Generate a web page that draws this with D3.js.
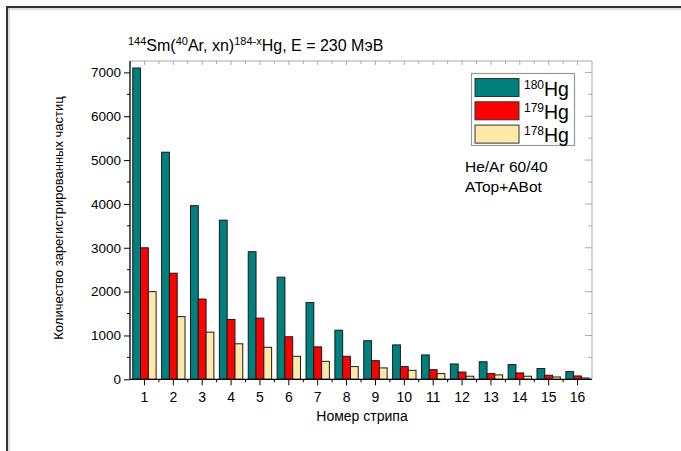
<!DOCTYPE html>
<html>
<head>
<meta charset="utf-8">
<script src="https://cdn.jsdelivr.net/npm/d3@7"></script>
<style>
  html, body { margin: 0; padding: 0; background: #fff; }
  svg { display: block; font-family: "Liberation Sans", Arial, sans-serif; }
</style>
</head>
<body>
<svg id="chart" width="681" height="451"></svg>
<script>
// Strip numbers and counts of registered particles per isotope
const strips = ["1","2","3","4","5","6","7","8","9","10","11","12","13","14","15","16"];
const hg180 = [7100, 5180, 3960, 3630, 2910, 2330, 1750, 1120, 880, 785, 555, 350, 400, 335, 245, 175];
const hg179 = [3000, 2420, 1830, 1365, 1395, 970, 740, 525, 425, 290, 220, 165, 130, 145, 92, 76];
const hg178 = [2000, 1430, 1075, 810, 730, 525, 410, 290, 260, 205, 130, 70, 100, 70, 53, 30];
const seriesNames = ["180", "179", "178"];
const seriesColors = ["#007f7f", "#ff0000", "#ffe9a8"];
const yTicks = [0, 1000, 2000, 3000, 4000, 5000, 6000, 7000];
const yMinorTicks = [500, 1500, 2500, 3500, 4500, 5500, 6500];

const series = [hg180, hg179, hg178];
const svg = d3.select("#chart");

// Outer frame (top and left edges)
svg.append("line").attr("x1", 6).attr("x2", 681).attr("y1", 7).attr("y2", 7)
  .attr("stroke", "#333").attr("stroke-width", 2);
svg.append("line").attr("x1", 7).attr("x2", 7).attr("y1", 6).attr("y2", 451)
  .attr("stroke", "#333").attr("stroke-width", 2);
svg.append("line").attr("x1", 8).attr("x2", 681).attr("y1", 9).attr("y2", 9)
  .attr("stroke", "#bbb").attr("stroke-width", 1);
svg.append("line").attr("x1", 9).attr("x2", 9).attr("y1", 8).attr("y2", 451)
  .attr("stroke", "#bbb").attr("stroke-width", 1);

const plot = { left: 130, right: 592, top: 61, bottom: 379.3 };

const x0 = d3.scaleBand().domain(strips)
  .range([plot.left, plot.right]).paddingInner(0.19).paddingOuter(0.095);
const x1 = d3.scaleBand().domain(seriesNames).range([0, x0.bandwidth()]);
const y = d3.scaleLinear().domain([0, 7260]).range([plot.bottom, plot.top]);

// Bars
const groups = svg.append("g").selectAll("g").data(strips).join("g")
  .attr("transform", d => `translate(${x0(d)},0)`);
groups.selectAll("rect")
  .data((d, i) => series.map((s, k) => ({ k, v: s[i] })))
  .join("rect")
  .attr("x", d => x1(seriesNames[d.k]))
  .attr("width", x1.bandwidth())
  .attr("y", d => y(d.v))
  .attr("height", d => y(0) - y(d.v))
  .attr("fill", d => seriesColors[d.k])
  .attr("stroke", "#1a1a1a")
  .attr("stroke-width", 1);

// Top and right frame axes (grey, ticks inward)
const gray = "#aaa";
const topAx = svg.append("g").attr("transform", `translate(0,${plot.top})`);
topAx.append("line").attr("x1", plot.left).attr("x2", plot.right).attr("stroke", gray);
const centers = strips.map(s => x0(s) + x0.bandwidth() / 2);
const bounds = strips.map(s => x0(s) - x0.step() * x0.paddingInner() / 2).slice(1);
topAx.selectAll(".tc").data(centers).join("line")
  .attr("x1", d => d).attr("x2", d => d).attr("y1", 0).attr("y2", 4).attr("stroke", gray);
topAx.selectAll(".tb").data(bounds).join("line")
  .attr("x1", d => d).attr("x2", d => d).attr("y1", 0).attr("y2", 3).attr("stroke", gray);

const rightAx = svg.append("g").attr("transform", `translate(${plot.right},0)`);
rightAx.append("line").attr("y1", plot.top).attr("y2", plot.bottom).attr("stroke", gray);
rightAx.selectAll(".rm").data(yTicks).join("line")
  .attr("x1", -7).attr("x2", 0).attr("y1", d => y(d)).attr("y2", d => y(d)).attr("stroke", gray);
rightAx.selectAll(".rn").data(yMinorTicks).join("line")
  .attr("x1", -4).attr("x2", 0).attr("y1", d => y(d)).attr("y2", d => y(d)).attr("stroke", gray);

// Left axis
const leftAx = svg.append("g").attr("transform", `translate(${plot.left},0)`);
leftAx.call(d3.axisLeft(y).tickValues(yTicks).tickSize(6).tickPadding(3).tickFormat(d3.format("d")));
leftAx.selectAll(".minor").data(yMinorTicks).join("line").attr("class", "minor")
  .attr("x1", -3).attr("x2", 0).attr("y1", d => y(d)).attr("y2", d => y(d)).attr("stroke", "#000");
leftAx.select(".domain").attr("d", `M0,${plot.top}V${plot.bottom}`).attr("stroke", "#000").attr("stroke-width", 1.3);
leftAx.selectAll("text").attr("font-size", 13.5).attr("fill", "#000")
  .attr("font-family", "'Liberation Sans', Arial, sans-serif");

// Bottom axis
const botAx = svg.append("g").attr("transform", `translate(0,${plot.bottom})`);
botAx.append("line").attr("x1", plot.left).attr("x2", plot.right).attr("stroke", "#000").attr("stroke-width", 1.3);
botAx.selectAll(".bc").data(centers).join("line")
  .attr("x1", d => d).attr("x2", d => d).attr("y1", 0).attr("y2", 6).attr("stroke", "#000");
botAx.selectAll(".bb").data(bounds).join("line")
  .attr("x1", d => d).attr("x2", d => d).attr("y1", 0).attr("y2", 3).attr("stroke", "#000");
botAx.selectAll(".bl").data(strips).join("text")
  .attr("x", d => x0(d) + x0.bandwidth() / 2).attr("y", 22.5)
  .attr("text-anchor", "middle").attr("font-size", 14).attr("fill", "#000")
  .text(d => d);

// Axis titles
svg.append("text").attr("x", 362).attr("y", 421).attr("text-anchor", "middle")
  .attr("font-size", 14).text("Номер стрипа");
svg.append("text").attr("transform", "translate(63,218) rotate(-90)")
  .attr("text-anchor", "middle").attr("font-size", 13)
  .text("Количество зарегистрированных частиц");

// Title with superscripts
const title = svg.append("text").attr("x", 128).attr("y", 51).attr("font-size", 16);
function sup(t) { title.append("tspan").attr("font-size", 11).attr("dy", -6.5).text(t); }
function norm(t) { title.append("tspan").attr("font-size", 16).attr("dy", 6.5).text(t); }
title.append("tspan").attr("font-size", 11).attr("dy", -6.5).text("144");
norm("Sm(");
sup("40");
norm("Ar, xn)");
sup("184-x");
norm("Hg, E = 230 МэВ");

// Legend
const lg = svg.append("g");
lg.append("rect").attr("x", 471.5).attr("y", 73.5).attr("width", 103).attr("height", 72)
  .attr("fill", "#fff").attr("stroke", "#999").attr("stroke-width", 1.2);
seriesNames.forEach((name, k) => {
  const yy = 78.5 + k * 23.3;
  lg.append("rect").attr("x", 475).attr("y", yy).attr("width", 44).attr("height", 18)
    .attr("fill", seriesColors[k]).attr("stroke", "#333").attr("stroke-width", 1);
  const t = lg.append("text").attr("x", 524).attr("y", yy + 17);
  t.append("tspan").attr("font-size", 12).attr("dy", -7).text(name);
  t.append("tspan").attr("font-size", 19.5).attr("dy", 7).text("Hg");
});

// Annotation
svg.append("text").attr("x", 465).attr("y", 172).attr("font-size", 15.5).text("He/Ar 60/40");
svg.append("text").attr("x", 465).attr("y", 191.5).attr("font-size", 15.5).text("ATop+ABot");
</script>
</body>
</html>
